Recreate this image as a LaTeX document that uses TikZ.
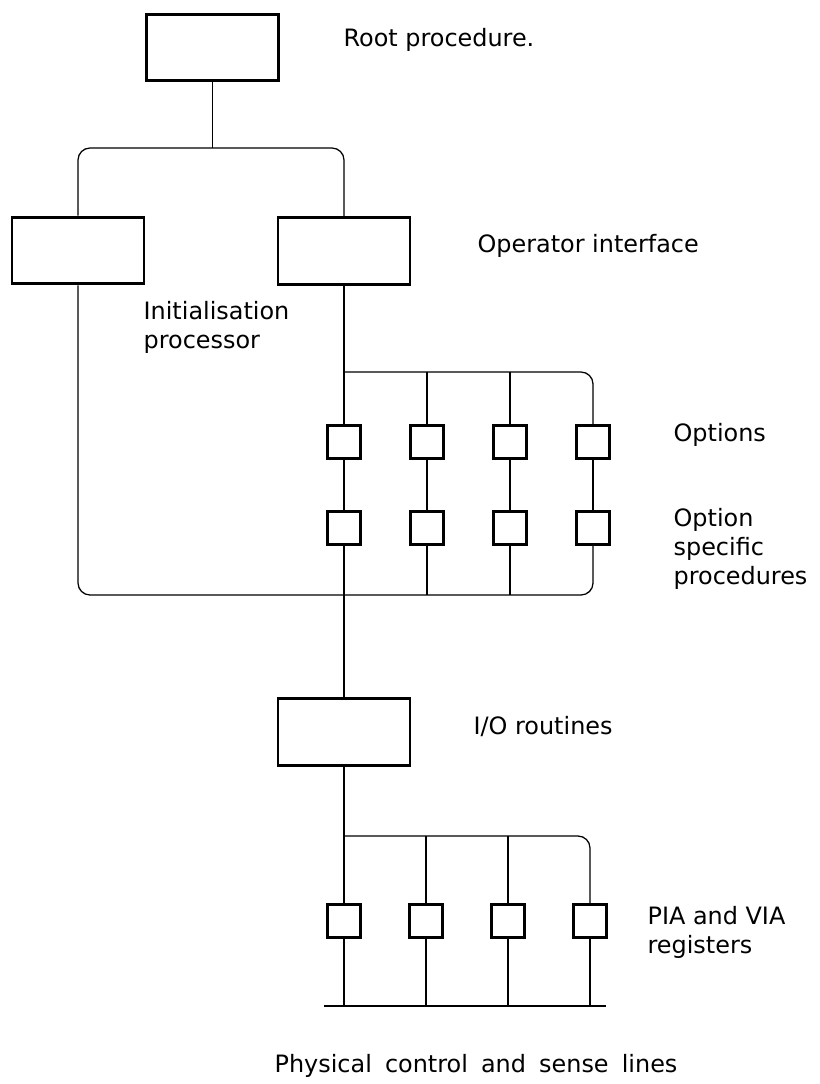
\documentclass[tikz,border=0pt]{standalone}
\usepackage{fontspec}
\setmainfont{DejaVu Sans}
\begin{document}
\begin{tikzpicture}[
                x=0.025cm, y=-0.025cm,
                line width=0.9pt,
                every node/.style={inner sep=0pt},
                block/.style={draw, line width=2.1pt, minimum width=3.3cm, minimum height=1.67cm},
                opt/.style={draw, line width=2.1pt, minimum width=0.83cm, minimum height=0.83cm},
                lbl/.style={anchor=west, align=left, font=\fontsize{17}{20.5}\selectfont}
            ]

            \useasboundingbox (0,0) rectangle (820,1084);

            % procedure blocks
            \node[block] (root) at (212.5,47.5) {};
            \node[block] (init) at (78,250.5) {};
            \node[block] (oper) at (344,251) {};
            \node[block] (io) at (344,732) {};

            \node[opt] (opt1) at (344,442) {};
            \node[opt] (opt2) at (427,442) {};
            \node[opt] (opt3) at (510,442) {};
            \node[opt] (opt4) at (593,442) {};

            \node[opt] (spec1) at (344,528) {};
            \node[opt] (spec2) at (427,528) {};
            \node[opt] (spec3) at (510,528) {};
            \node[opt] (spec4) at (593,528) {};

            \node[opt] (pia1) at (344,921) {};
            \node[opt] (pia2) at (426,921) {};
            \node[opt] (pia3) at (508,921) {};
            \node[opt] (pia4) at (590,921) {};

            \coordinate (top) at (212.5,148);
            \coordinate (optbus) at (344,372);
            \coordinate (low) at (344,595);
            \coordinate (iobus) at (344,836);
            \coordinate (lineL) at (324,1006);
            \coordinate (lineR) at (606,1006);

            % connections
            \draw (root) -- (top);
            \draw[rounded corners=0.3cm] (init) |- (top) -| (oper);
            \draw (oper) -- (optbus);
            \draw[rounded corners=0.3cm] (optbus) -| (opt4);
            \draw (optbus) -- (opt1);
            \draw (opt2) -- (opt2 |- optbus);
            \draw (opt3) -- (opt3 |- optbus);

            \draw (opt1) -- (spec1);
            \draw (opt2) -- (spec2);
            \draw (opt3) -- (spec3);
            \draw (opt4) -- (spec4);

            \draw[rounded corners=0.3cm] (init) |- (low) -| (spec4);
            \draw (spec1) -- (low);
            \draw (spec2) -- (spec2 |- low);
            \draw (spec3) -- (spec3 |- low);
            \draw (low) -- (io);

            \draw (io) -- (iobus);
            \draw[rounded corners=0.3cm] (iobus) -| (pia4);
            \draw (iobus) -- (pia1);
            \draw (pia2) -- (pia2 |- iobus);
            \draw (pia3) -- (pia3 |- iobus);

            \draw[line width=2.1pt] (lineL) -- (lineR);
            \draw (pia1) -- (pia1 |- lineL);
            \draw (pia2) -- (pia2 |- lineL);
            \draw (pia3) -- (pia3 |- lineL);
            \draw (pia4) -- (pia4 |- lineL);

            % labels
            \node[lbl] (rootlbl) at (343,40) {Root procedure.};
            \node[lbl] (operlbl) at (477,246) {Operator interface};
            \node[lbl] (initlbl) at (143,327) {Initialisation\\processor};
            \node[lbl] (optlbl) at (673,435) {Options};
            \node[lbl] (speclbl) at (673,549) {Option\\specific\\procedures};
            \node[lbl] (iolbl) at (473,727) {I/O routines};
            \node[lbl] (pialbl) at (647,932) {PIA and VIA\\registers};
            \node[lbl] (lineslbl) at (274,1066) {\spaceskip=0.55em\relax Physical control and sense lines};

        \end{tikzpicture}
\end{document}
